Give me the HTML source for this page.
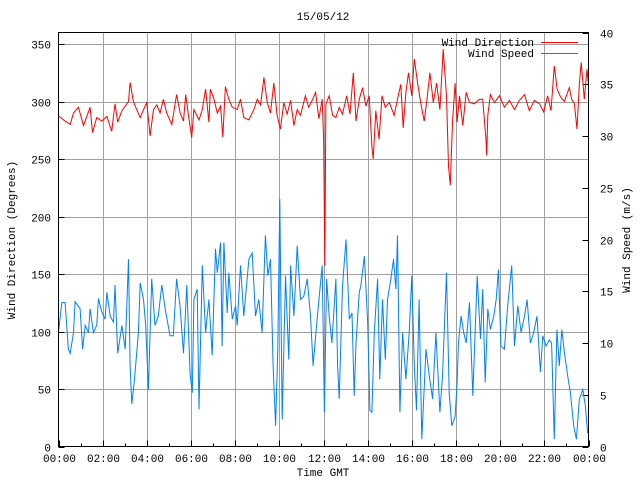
<!DOCTYPE html>
<html><head><meta charset="utf-8"><style>
html,body{margin:0;padding:0;background:#fff;}
svg{display:block;font-family:"Liberation Mono","DejaVu Sans Mono",monospace;font-size:11px;}
</style></head><body>
<svg id="chart" width="640" height="480" viewBox="0 0 640 480" xmlns="http://www.w3.org/2000/svg">
<rect width="640" height="480" fill="#fff"/>
<text x="323" y="20" text-anchor="middle">15/05/12</text>
<text transform="translate(15,240) rotate(-90)" text-anchor="middle">Wind Direction (Degrees)</text>
<text transform="translate(630,240) rotate(-90)" text-anchor="middle">Wind Speed (m/s)</text>
<text x="323" y="476" text-anchor="middle">Time GMT</text>
<g id="grid"></g>
<g id="ticks"></g>
<g id="series"></g>
<rect x="58.5" y="32.5" width="530" height="414" fill="none" stroke="#000" stroke-width="1"/>
<g>
<text x="534" y="46" text-anchor="end">Wind Direction</text>
<line x1="541" y1="42.5" x2="578" y2="42.5" stroke="#ff0000"/>
<text x="534" y="57" text-anchor="end">Wind Speed</text>
<line x1="541" y1="53.5" x2="578" y2="53.5" stroke="#0080ff"/>
</g>
</svg>
<script>
const xTickLabels=["00:00","02:00","04:00","06:00","08:00","10:00","12:00","14:00","16:00","18:00","20:00","22:00","00:00"];
const yTicks=[0,50,100,150,200,250,300,350];
const y2Ticks=[0,5,10,15,20,25,30,35,40];
const dirTimes=[0,0.3,0.53,0.68,0.9,1.13,1.28,1.43,1.54,1.73,1.96,2.19,2.41,2.56,2.68,2.87,3.02,3.17,3.24,3.39,3.54,3.7,3.85,4.0,4.15,4.3,4.45,4.6,4.75,4.9,5.13,5.35,5.51,5.66,5.76,5.88,6.03,6.13,6.36,6.51,6.66,6.81,6.88,7.04,7.19,7.34,7.44,7.56,7.71,7.87,8.09,8.24,8.39,8.62,8.85,9.0,9.15,9.3,9.45,9.6,9.75,9.9,10.05,10.2,10.35,10.51,10.66,10.81,10.96,11.18,11.33,11.49,11.64,11.79,11.94,12.01,12.06,12.11,12.26,12.41,12.56,12.71,12.86,13.05,13.2,13.35,13.47,13.62,13.77,13.92,14.07,14.19,14.25,14.37,14.52,14.65,14.8,14.98,15.2,15.35,15.5,15.61,15.73,15.85,16.0,16.11,16.26,16.41,16.56,16.67,16.82,16.97,17.12,17.27,17.42,17.57,17.66,17.74,17.84,17.96,18.05,18.16,18.31,18.46,18.61,18.83,19.06,19.21,19.36,19.39,19.44,19.56,19.74,19.97,20.19,20.42,20.65,20.87,21.1,21.32,21.55,21.78,21.97,22.15,22.3,22.45,22.58,22.73,22.91,23.13,23.24,23.36,23.48,23.59,23.67,23.81,23.93,24.0];
const dirValues=[287.5,283,280,290,295,279,287,295,273,286,283,287,274,298,282,292,296,300,316.5,300,293,286,293,299,270,293,297,290,302,290,280,306,290,283,306,289,268.7,293,284,293,310.7,282,310.7,302,290,296,269,313,302,295,293,302,286,284,293,302,297,321,299,290,316,288,276,299,289,301,279,293,288,305,295,301,308,285,302,264,157,298,305,288,286,295,289,305,289,325,283,302,312,296,305,261,250,292,267,305,295,299,288,302,315,277,308,325,305,337,316,298,283,299,325,299,316,293,345.5,305,244,227,282,316,282,305,279,308,299,298,302,302,267,253,288,306,299,305,295,301,293,301,306,292,301,298,291,305,292,331,311,304,300,312,302,298,276,316,334,302,328,314];
const spdTimes=[0,0.15,0.3,0.45,0.53,0.68,0.75,0.98,1.09,1.21,1.36,1.43,1.58,1.73,1.81,1.96,2.11,2.19,2.34,2.49,2.56,2.68,2.87,3.02,3.17,3.24,3.32,3.44,3.62,3.7,3.85,3.95,4.07,4.22,4.37,4.52,4.68,4.83,5.05,5.2,5.35,5.5,5.66,5.81,5.96,6.06,6.13,6.28,6.36,6.51,6.66,6.81,6.96,7.11,7.19,7.34,7.41,7.49,7.64,7.71,7.87,8.02,8.09,8.24,8.39,8.62,8.77,8.92,9.07,9.22,9.37,9.48,9.6,9.72,9.83,9.93,10.02,10.13,10.28,10.43,10.51,10.66,10.81,10.96,11.11,11.26,11.41,11.53,11.71,11.94,12.04,12.14,12.26,12.38,12.56,12.64,12.71,12.86,13.02,13.17,13.29,13.39,13.47,13.62,13.69,13.85,14.0,14.1,14.19,14.3,14.45,14.55,14.67,14.8,14.9,15.05,15.17,15.28,15.35,15.46,15.58,15.73,15.88,16.0,16.11,16.21,16.33,16.45,16.64,16.79,16.94,17.09,17.27,17.39,17.57,17.69,17.81,17.96,18.05,18.11,18.23,18.35,18.46,18.61,18.76,18.96,19.11,19.21,19.32,19.44,19.56,19.71,19.82,19.92,20.04,20.19,20.34,20.52,20.65,20.8,20.95,21.1,21.22,21.37,21.52,21.67,21.82,21.93,22.08,22.23,22.33,22.45,22.57,22.68,22.79,22.91,23.06,23.18,23.33,23.45,23.59,23.74,23.86,23.96];
const spdValues=[11.0,13.9,13.9,9.4,9.0,11.0,14.0,13.3,9.4,11.7,11.0,13.3,11.0,11.7,14.3,13.0,12.3,14.9,12.6,12.0,15.6,9.0,11.7,9.4,18.1,7.8,4.1,6.5,11.0,15.8,14.2,11.7,5.5,16.2,11.7,12.6,15.6,13.3,10.7,10.7,16.2,13.6,9.0,15.6,7.0,5.2,14.2,15.2,3.6,17.5,11.0,14.2,8.8,19.1,16.8,19.7,9.7,19.7,12.9,16.8,12.3,13.6,11.7,17.5,12.6,18.1,18.7,12.6,14.2,11.0,20.4,16.5,18.1,7.8,2.0,9.4,23.9,2.6,16.5,8.4,17.5,12.6,19.4,14.2,14.5,16.2,12.6,7.8,12.3,17.5,3.3,16.2,12.6,10.0,16.2,7.8,4.6,15.5,20.0,12.3,12.9,4.9,10.0,14.9,15.5,18.4,11.9,3.5,3.3,11.0,16.2,6.5,14.2,8.4,14.2,16.2,18.1,15.2,20.4,3.3,11.0,6.5,11.0,16.5,7.8,3.5,14.2,0.7,9.4,6.8,4.6,11.0,3.3,6.8,16.8,5.2,2.0,2.9,6.1,10.0,12.6,11.0,10.0,13.9,4.9,16.5,10.4,15.2,6.2,13.3,11.3,12.6,14.2,17.1,9.7,9.4,13.6,17.5,9.7,13.6,11.0,12.6,14.2,10.0,11.0,12.6,7.2,10.7,9.7,10.3,10.0,0.7,11.3,7.8,11.3,9.1,6.8,5.2,2.0,0.7,4.6,5.5,3.9,1.3];

const L=58.5,R=588.5,T=32.5,B=446.5;
const NS='http://www.w3.org/2000/svg';
function xs(h){return L+(R-L)*h/24;}
function yDir(d){return B-(B-T)*d/360;}
function ySpd(s){return B-(B-T)*s/40;}
function mk(tag,attrs,parent){const e=document.createElementNS(NS,tag);for(const k in attrs)e.setAttribute(k,attrs[k]);parent.appendChild(e);return e;}
const grid=document.getElementById('grid'),ticks=document.getElementById('ticks'),series=document.getElementById('series');

xTickLabels.forEach((lab,i)=>{
  const x=Math.round(xs(i*2))+0.5;
  if(i>0&&i<xTickLabels.length-1){
    const g=mk('line',{x1:x,y1:T,x2:x,y2:B,stroke:'#a0a0a0'},grid);
    
    
  }
  const t=mk('text',{x:x,y:462,'text-anchor':'middle'},ticks);
  t.textContent=lab;
  
  
});
for(let h=0;h<=24;h++){
  const x=Math.round(xs(h))+0.5;
  const len=(h%2===0)?6:3;
  const tk=mk('line',{x1:x,y1:B,x2:x,y2:B-len,stroke:'#000'},ticks);
  
  
}
yTicks.forEach(v=>{
  const y=Math.round(yDir(v))+0.5;
  if(v>0){
    const g=mk('line',{x1:L,y1:y,x2:R,y2:y,stroke:'#a0a0a0'},grid);
    
    
  }
  const tk=mk('line',{x1:L,y1:y,x2:L+6,y2:y,stroke:'#000'},ticks);
  
  
  const t=mk('text',{x:51,y:y+4,'text-anchor':'end'},ticks);
  t.textContent=v;
  
  
});
y2Ticks.forEach(v=>{
  const y=Math.round(ySpd(v))+0.5;
  const tk=mk('line',{x1:R-6,y1:y,x2:R,y2:y,stroke:'#000'},ticks);
  
  
  const t=mk('text',{x:600,y:y+4,'text-anchor':'start'},ticks);
  t.textContent=v;
  
  
});
function pts(times,vals,yf){return times.map((t,i)=>xs(t).toFixed(1)+','+yf(vals[i]).toFixed(1)).join(' ');}
const sp=mk('polyline',{points:pts(spdTimes,spdValues,ySpd),fill:'none',stroke:'#0080ff','stroke-width':1},series);


const dp=mk('polyline',{points:pts(dirTimes,dirValues,yDir),fill:'none',stroke:'#ff0000','stroke-width':1},series);


</script>
</body></html>
